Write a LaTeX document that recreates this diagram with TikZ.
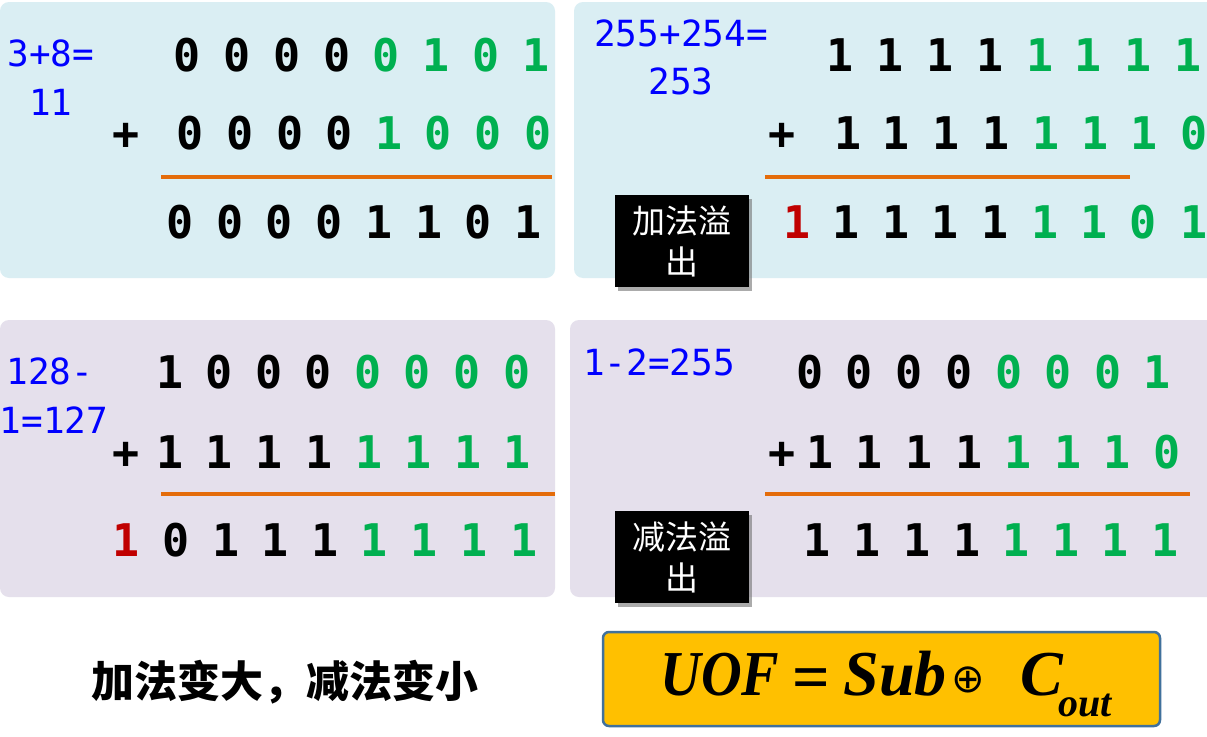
\documentclass[tikz,border=0pt]{standalone}
\usepackage{fontspec}
\setmainfont{Liberation Serif}
\newfontfamily\monofnt{DejaVu Sans Mono}
\newfontfamily\cjkfnt{Noto Sans CJK SC}
\newfontfamily\tnrfnt{Liberation Serif}
\newfontfamily\symfnt{DejaVu Sans}
\usetikzlibrary{shadows}
\definecolor{panelblue}{HTML}{DAEEF3}
\definecolor{panelpurple}{HTML}{E5E0EC}
\definecolor{bitgreen}{HTML}{00B050}
\definecolor{bitred}{HTML}{C00000}
\definecolor{rulecol}{HTML}{E46C0A}
\definecolor{labblue}{HTML}{0000FF}
\definecolor{boxgold}{HTML}{FFC000}
\definecolor{boxedge}{HTML}{41719C}
\colorlet{bk}{black}
\colorlet{gn}{bitgreen}
\colorlet{rd}{bitred}
\tikzset{
  panelA/.style={fill=panelblue, rounded corners=9pt, draw=none},
  panelB/.style={fill=panelpurple, rounded corners=9pt, draw=none},
  bit/.style={font=\monofnt\bfseries\fontsize{45}{45}\selectfont, inner sep=0pt, anchor=center},
  lab/.style={font=\monofnt\fontsize{36}{36}\selectfont, text=labblue, inner sep=0pt, anchor=center},
  rulestroke/.style={draw=rulecol, line width=4pt},
  ovbox/.style={fill=black, text=white, inner sep=0pt, minimum width=134pt, minimum height=92pt,
    align=center, font=\cjkfnt\fontsize{33}{41}\selectfont,
    drop shadow={shadow xshift=3pt, shadow yshift=-4pt, fill=black!55, opacity=0.6}},
  fbox/.style={fill=boxgold, draw=boxedge, line width=2.5pt, rounded corners=6pt,
    minimum width=557pt, minimum height=94pt, inner sep=0pt},
  ftxt/.style={font=\tnrfnt\bfseries\itshape\fontsize{64}{64}\selectfont, inner sep=0pt, anchor=base},
  note/.style={font=\cjkfnt\bfseries\fontsize{43}{43}\selectfont, inner sep=0pt, anchor=center}
}
\newcommand\bitrow[3]{\foreach \xx/\dd/\cc [count=\nn] in {#3} {\node[bit,text=\cc] (#1-\nn) at (\xx,#2) {\dd};}}
\begin{document}
\begin{tikzpicture}[x=1pt,y=-1pt]
\clip (0,0) rectangle (1207,736);
\fill[white] (0,0) rectangle (1207,736);
% panels
\path[panelA] (0,2) rectangle (555,278);
\path[panelA] (574,2) rectangle (1230,278);
\path[panelB] (0,320) rectangle (555,597);
\path[panelB] (570,320) rectangle (1230,597);

% ---- top left
\node[lab] (tll1) at (51,53) {3+8=};
\node[lab] (tll2) at (51,102) {11};
\bitrow{tla}{55}{187/0/bk,237/0/bk,287/0/bk,337/0/bk,386/0/gn,436/1/gn,486/0/gn,536/1/gn}
\node[bit] (tlp) at (126,136) {+};
\bitrow{tlb}{133}{190/0/bk,240/0/bk,290/0/bk,339/0/bk,389/1/gn,438/0/gn,488/0/gn,538/0/gn}
\draw[rulestroke] (161,177) -- (552,177);
\bitrow{tlc}{222}{180/0/bk,230/0/bk,279/0/bk,329/0/bk,379/1/bk,429/1/bk,478/0/bk,528/1/bk}

% ---- top right
\node[lab] (trl1) at (681,33) {255+254=};
\node[lab] (trl2) at (681,81) {253};
\bitrow{tra}{55}{840/1/bk,890/1/bk,940/1/bk,990/1/bk,1040/1/gn,1088/1/gn,1138/1/gn,1188/1/gn}
\node[bit] (trp) at (782,136) {+};
\bitrow{trb}{133}{848/1/bk,896/1/bk,946/1/bk,996/1/bk,1046/1/gn,1095/1/gn,1144/1/gn,1194/0/gn}
\draw[rulestroke] (765,177) -- (1130,177);
\node[ovbox] (ovadd) at (682,241) {加法溢\\出};
\bitrow{trc}{222}{797/1/rd,846/1/bk,896/1/bk,945/1/bk,995/1/bk,1045/1/gn,1094/1/gn,1143/0/gn,1194/1/gn}

% ---- bottom left
\node[lab] (bll1) at (50,371) {128-};
\node[lab] (bll2) at (54,420) {1=127};
\bitrow{bla}{372}{170/1/bk,219/0/bk,269/0/bk,318/0/bk,368/0/gn,417/0/gn,467/0/gn,517/0/gn}
\node[bit] (blp) at (126,455) {+};
\bitrow{blb}{452}{170/1/bk,219/1/bk,269/1/bk,319/1/bk,369/1/gn,418/1/gn,468/1/gn,517/1/gn}
\draw[rulestroke] (161,494) -- (555,494);
\bitrow{blc}{540}{126/1/rd,176/0/bk,226/1/bk,275/1/bk,325/1/bk,374/1/gn,424/1/gn,474/1/gn,524/1/gn}

% ---- bottom right
\node[lab] (brl1) at (659,362) {1-2=255};
\bitrow{bra}{372}{810/0/bk,859/0/bk,909/0/bk,959/0/bk,1009/0/gn,1058/0/gn,1108/0/gn,1157/1/gn}
\node[bit] (brp) at (782,455) {+};
\bitrow{brb}{452}{820/1/bk,869/1/bk,919/1/bk,969/1/bk,1018/1/gn,1068/1/gn,1117/1/gn,1167/0/gn}
\draw[rulestroke] (765,494) -- (1190,494);
\node[ovbox] (ovsub) at (682,557) {减法溢\\出};
\bitrow{brc}{540}{817/1/bk,867/1/bk,917/1/bk,967/1/bk,1016/1/gn,1066/1/gn,1115/1/gn,1165/1/gn}

% ---- bottom row
\node[note] (rule) at (285,682) {加法变大，减法变小};
\node[fbox] (fbox) at (881.5,679) {};
\node[ftxt] (fU) at (720,695) {\scalebox{0.88}[1]{UOF}};
\node[inner sep=0pt, font=\tnrfnt\bfseries\fontsize{66}{66}\selectfont] (feq) at (811,684) {=};
\node[ftxt] (fS) at (895,695) {Sub};
\node[inner sep=0pt, font=\symfnt\fontsize{40}{40}\selectfont] (fx) at (968,680) {⊕};
\node[ftxt] (fC) at (1042,695) {C};
\node[ftxt, anchor=base west, font=\tnrfnt\bfseries\itshape\fontsize{40}{40}\selectfont] (fo) at (1058,716) {out};
\end{tikzpicture}
\end{document}
